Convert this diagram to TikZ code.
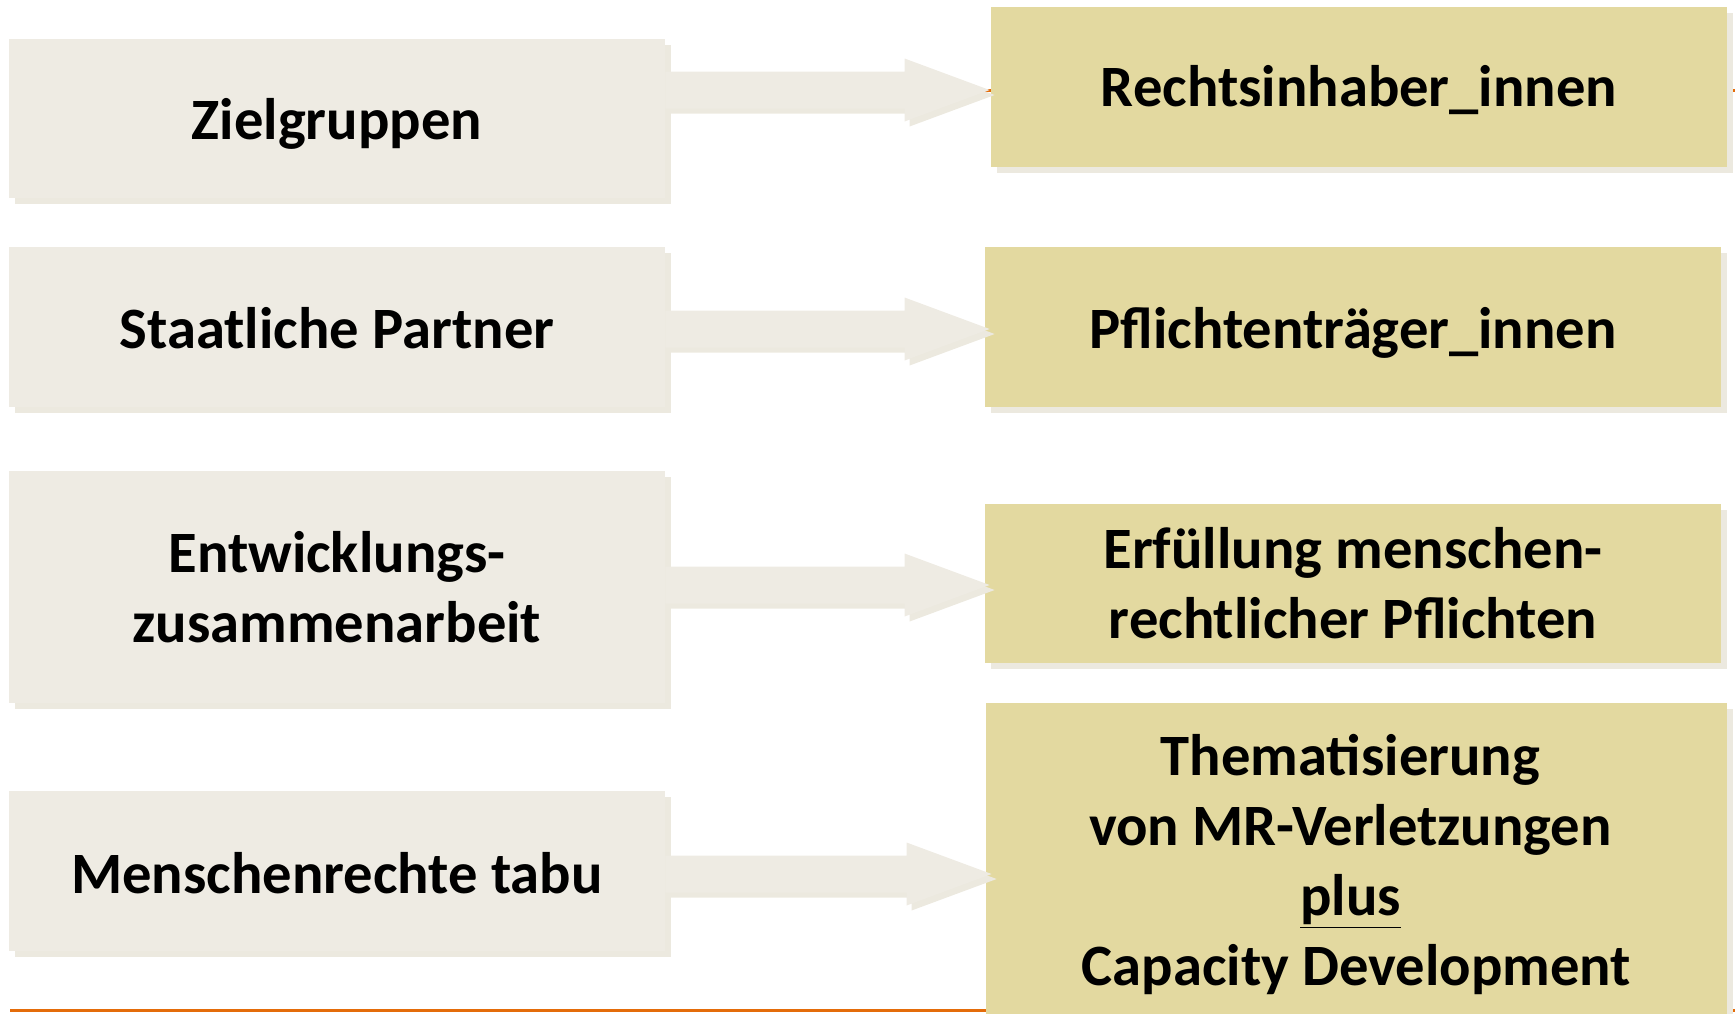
\documentclass[tikz,border=0pt]{standalone}
\usepackage{fontspec}
\setmainfont{Carlito}
\usetikzlibrary{calc,shadows}
\definecolor{lboxc}{HTML}{EEEBE3}
\definecolor{rboxc}{HTML}{E3D9A0}
\definecolor{shadc}{HTML}{ECE9DF}
\definecolor{arrc}{HTML}{EEEBE3}
\definecolor{orangec}{HTML}{E46C0A}
\tikzset{
  boxtext/.style={inner sep=0pt, align=center, text=black,
    font=\bfseries\fontsize{29.3}{35}\selectfont},
  lbox/.style={boxtext, fill=lboxc, minimum width=328pt,
    drop shadow={shadow xshift=3pt, shadow yshift=-3pt, fill=shadc, opacity=1}},
  rbox/.style={boxtext, fill=rboxc, minimum width=368pt,
    drop shadow={shadow xshift=3pt, shadow yshift=-3pt, fill=shadc, opacity=1}},
  arrfill/.style={fill=arrc},
  arrshadow/.style={fill=shadc},
  orangeline/.style={draw=orangec, line width=1.5pt}
}
% lower the visible text without changing the node size
\newcommand\lowertext[2]{\raisebox{-#1}[\height][\depth]{#2}}
% invisible trailing pad that moves a centred line to the left
\newcommand\trailpad{\rule{6pt}{0pt}}
% #1 style, #2 start coordinate, #3 tip coordinate, #4 dx, #5 dy
\newcommand\blockarr[5]{%
  \fill[#1] let \p1=(#2), \p2=(#3) in
    (\x1+#4,\y2+9.25pt+#5) -- (\x2-42.5pt+#4,\y2+9.25pt+#5)
    -- (\x2-42.5pt+#4,\y2+15.75pt+#5) -- (\x2+#4,\y2+#5)
    -- (\x2-42.5pt+#4,\y2-15.75pt+#5) -- (\x2-42.5pt+#4,\y2-9.25pt+#5)
    -- (\x1+#4,\y2-9.25pt+#5) -- cycle;}
\begin{document}
\begin{tikzpicture}[x=0.5pt,y=-0.5pt]
\useasboundingbox (0,0) rectangle (1735,1013);
% orange lines (behind)
\coordinate (o1a) at (985,90);
\coordinate (o1b) at (1735,90);
\coordinate (o2a) at (10,1010);
\coordinate (o2b) at (1735,1010);
\draw[orangeline] (o1a) -- (o1b);
\draw[orangeline] (o2a) -- (o2b);
% left boxes
\node[lbox, minimum height=79.5pt] (L1) at (337,118.5) {\lowertext{2.75pt}{Zielgruppen}};
\node[lbox, minimum height=80pt] (L2) at (337,327) {\lowertext{0.5pt}{Staatliche Partner}};
\node[lbox, minimum height=116pt] (L3) at (337,587) {Entwicklungs-\\zusammenarbeit};
\node[lbox, minimum height=80pt] (L4) at (337,871) {\lowertext{1.1pt}{Menschenrechte tabu}};
% right boxes
\node[rbox, minimum height=80pt] (R1) at (1359,87) {\lowertext{1.65pt}{Rechtsinhaber\_innen}};
\node[rbox, minimum height=80pt] (R2) at (1353,327) {\lowertext{2.75pt}{Pflichtenträger\_innen}};
\node[rbox, minimum height=79.5pt] (R3) at (1353,583) {Erfüllung menschen-\\rechtlicher Pflichten};
\node[rbox, minimum height=161.7pt, minimum width=370.5pt] (R4) at (1356.5,864.7)
  {Thematisierung\trailpad\\von MR-Verletzungen\trailpad\\\underline{plus}\trailpad\\Capacity Development};
% arrow tips
\coordinate (t1) at ($(R1.west)+(-1,3)$);
\coordinate (t2) at ($(R2.west)+(5,2)$);
\coordinate (t3) at ($(R3.west)+(5,2)$);
\coordinate (t4) at ($(L4.east -| R4.west)+(6,3)$);
% arrow shadows
\blockarr{arrshadow}{L1.east}{t1}{2.5pt}{-2.5pt}
\blockarr{arrshadow}{L2.east}{t2}{2.5pt}{-2.5pt}
\blockarr{arrshadow}{L3.east}{t3}{2.5pt}{-2.5pt}
\blockarr{arrshadow}{L4.east}{t4}{2.5pt}{-2.5pt}
% arrows
\blockarr{arrfill}{L1.east}{t1}{0pt}{0pt}
\blockarr{arrfill}{L2.east}{t2}{0pt}{0pt}
\blockarr{arrfill}{L3.east}{t3}{0pt}{0pt}
\blockarr{arrfill}{L4.east}{t4}{0pt}{0pt}
\end{tikzpicture}
\end{document}
